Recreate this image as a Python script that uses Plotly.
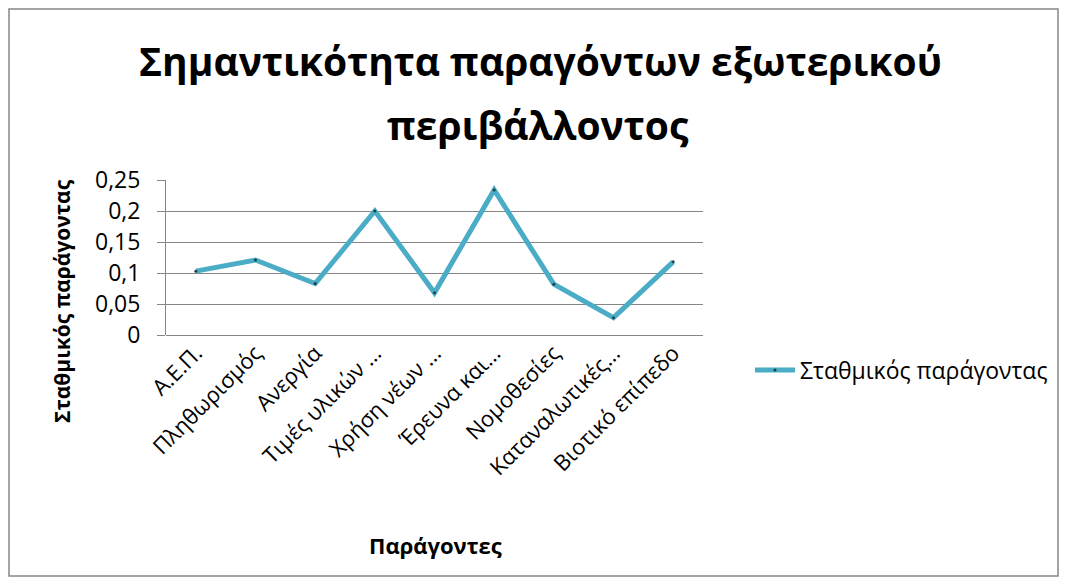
import plotly.graph_objects as go

categories = ["Α.Ε.Π.", "Πληθωρισμός", "Ανεργία", "Τιμές υλικών …", "Χρήση νέων …",
              "Έρευνα και…", "Νομοθεσίες", "Καταναλωτικές…", "Βιοτικό επίπεδο"]
values = [0.103, 0.121, 0.083, 0.200, 0.068, 0.234, 0.082, 0.028, 0.118]
series_name = "Σταθμικός παράγοντας"
title_line1 = "Σημαντικότητα παραγόντων εξωτερικού"
title_line2 = "περιβάλλοντος"
x_title = "Παράγοντες"
y_title = "Σταθμικός παράγοντας"
y_ticks = [0, 0.05, 0.1, 0.15, 0.2, 0.25]

FONT = "Open Sans"
L, R, T, B = 166, 364, 180, 249
W, H = 1067, 584
pw, ph = W - L - R, H - T - B

def px(x):
    return (x - L) / pw

def py(y):
    return (H - B - y) / ph

fig = go.Figure()
fig.add_trace(go.Scatter(
    x=categories, y=values, name=series_name, mode="lines+markers",
    line=dict(color="#4BACC6", width=5),
    marker=dict(size=3, color="#1f3f48"),
))

fig.update_layout(
    width=W, height=H,
    margin=dict(l=L, r=R, t=T, b=B),
    paper_bgcolor="white", plot_bgcolor="white",
    separators=",.",
    font=dict(family=FONT, color="black", size=22),
    showlegend=True,
    legend=dict(x=px(750), y=py(370), xanchor="left", yanchor="middle",
                font=dict(family=FONT, size=23, color="black"),
                bgcolor="rgba(0,0,0,0)", itemwidth=40),
    xaxis=dict(
        type="category", tickangle=-45, showgrid=False,
        showline=False, ticks="", tickfont=dict(family=FONT, size=22),
        range=[-0.5, len(categories) - 0.5],
    ),
    yaxis=dict(
        range=[0, 0.25], tickvals=y_ticks, showgrid=True, gridcolor="#868686",
        gridwidth=1, showline=True, linecolor="#868686", linewidth=1,
        ticks="outside", ticklen=8, tickcolor="#868686", ticklabelstandoff=12,
        tickfont=dict(family=FONT, size=23), zeroline=True,
        zerolinecolor="#868686", zerolinewidth=1,
    ),
    annotations=[
        dict(text=title_line1, xref="paper", yref="paper", x=px(540), y=py(60),
             xanchor="center", yanchor="middle", showarrow=False,
             font=dict(family=FONT, size=39, color="black", weight="bold")),
        dict(text=title_line2, xref="paper", yref="paper", x=px(538), y=py(124),
             xanchor="center", yanchor="middle", showarrow=False,
             font=dict(family=FONT, size=39, color="black", weight="bold")),
        dict(text=x_title, xref="paper", yref="paper", x=px(435), y=py(545),
             xanchor="center", yanchor="middle", showarrow=False,
             font=dict(family=FONT, size=22, color="black", weight="bold")),
        dict(text=y_title, xref="paper", yref="paper", x=px(62), y=py(301),
             xanchor="center", yanchor="middle", showarrow=False, textangle=-90,
             font=dict(family=FONT, size=21, color="black", weight="bold")),
    ],
    shapes=[
        dict(type="rect", xref="paper", yref="paper",
             x0=px(9), x1=px(1058), y0=py(9), y1=py(576),
             line=dict(color="#868686", width=1.5), layer="below"),
    ],
)

fig.write_html("out.html")
